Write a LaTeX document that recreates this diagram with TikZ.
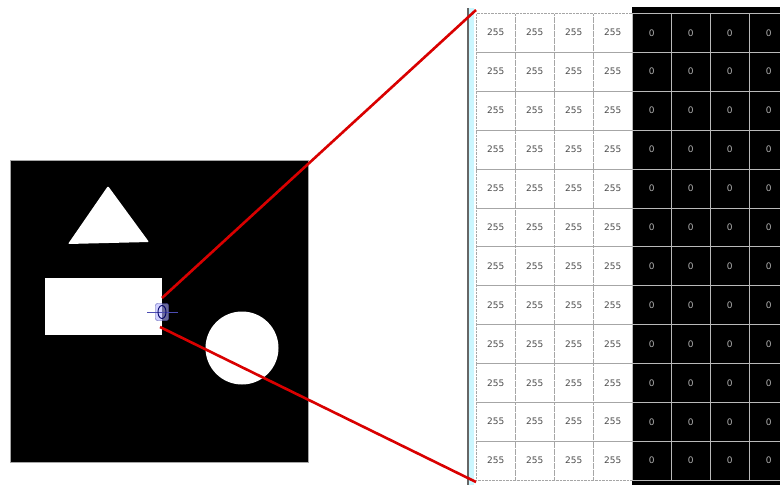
\documentclass[tikz,border=0pt]{standalone}
\usepackage{fontspec}
\setmainfont{DejaVu Sans}
\begin{document}
\begin{tikzpicture}[x=1pt,y=-1pt,
  cellw/.style={minimum width=39pt,minimum height=38.9pt,inner sep=0pt,anchor=north west,
     draw=gray!70,densely dotted,text=black!70,font=\fontsize{9}{9}\selectfont},
  cellb/.style={minimum width=39pt,minimum height=38.9pt,inner sep=0pt,anchor=north west,
     fill=black,draw=gray!55,line width=0.7pt,text=white!70!black,font=\fontsize{9}{9}\selectfont},
  redline/.style={draw=red!85!black,line width=2.6pt},
  shapew/.style={fill=white,draw=none}]
\useasboundingbox (0,0) rectangle (780,485);
\fill[white] (0,0) rectangle (780,485);
% left image
\node[draw=gray!70,line width=1pt,fill=black,minimum width=298pt,minimum height=302pt,anchor=north west,inner sep=0pt] (img) at (10,160) {};
\fill[shapew,rounded corners=1pt] (108,186) -- (149,242) -- (68,244) -- cycle;
\node[shapew,minimum width=117pt,minimum height=57pt,anchor=north west,inner sep=0pt] (rect) at (45,278) {};
\node[shapew,circle,minimum size=73pt,inner sep=0pt] (circ) at (242,348) {};
% zoom point
\coordinate (zt) at (162,298);
\coordinate (zb) at (160,327);
% right grid
\fill[black] (632,7) rectangle (780,485);
\foreach \r in {0,...,11}{
  \foreach \c in {0,...,3}{
    \node[cellw] (w-\r-\c) at ({476+39*\c},{13+38.9*\r}) {255};
  }
  \foreach \c in {0,...,3}{
    \node[cellb] (b-\r-\c) at ({632+39*\c},{13+38.9*\r}) {0};
  }
}
\fill[blue!15!cyan!20] (468,8) rectangle (474,485);
\draw[gray!80!black,line width=1.2pt] (468,8) -- (468,485);
\coordinate (gt) at (476,10);
\coordinate (gb) at (476,482);
\draw[redline] (zt) -- (gt);
\draw[redline] (zb) -- (gb);
% crosshair icon
\node[draw=blue!40!gray,fill=blue!30!white,fill opacity=0.6,rounded corners=2pt,minimum width=13pt,minimum height=17pt,inner sep=0pt] (icon) at (162,312) {};
\draw[blue!40!gray,line width=0.9pt] (147,312) -- (178,312);
\draw[blue!40!black,line width=0.9pt] (162,312) ellipse (4pt and 6.5pt);
\end{tikzpicture}
\end{document}
